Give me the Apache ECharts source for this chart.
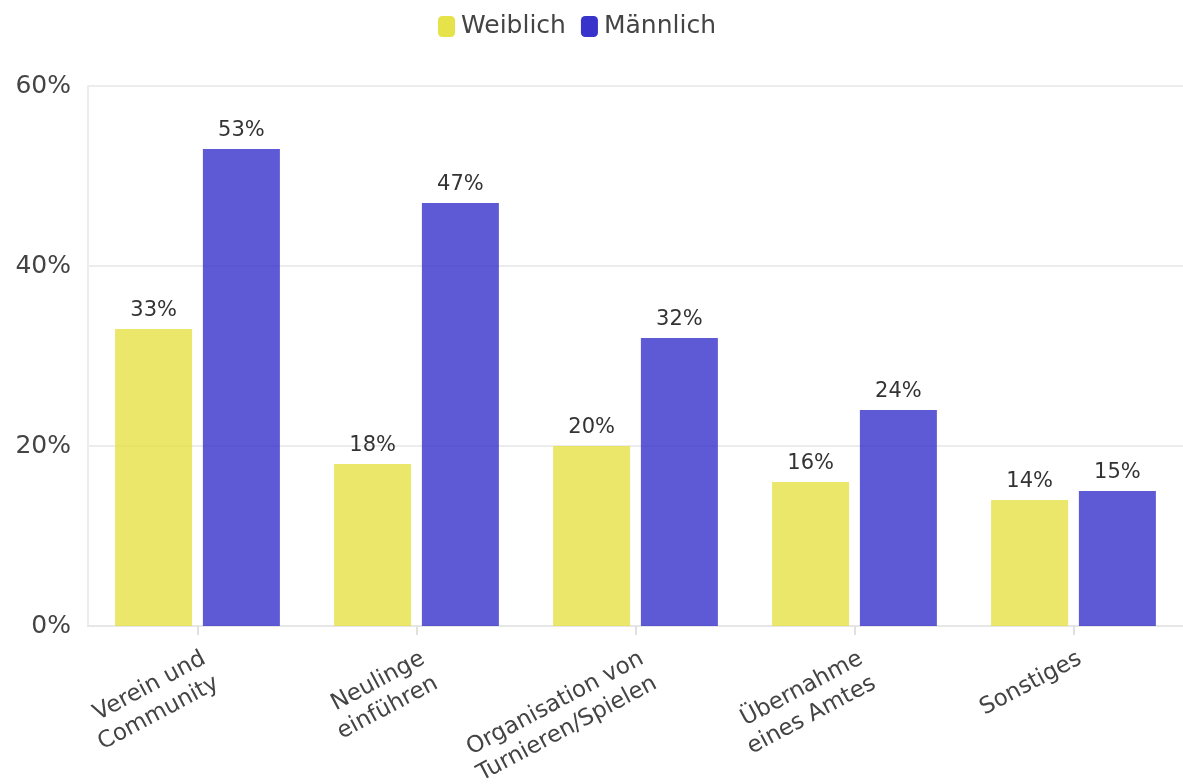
<!DOCTYPE html>
<html><head><meta charset="utf-8">
<script src="https://cdn.jsdelivr.net/npm/echarts@6/dist/echarts.min.js"></script>
<style>html,body{margin:0;padding:0;background:#fff}#c{width:1183px;height:784px}</style>
</head><body><div id="c"></div>
<script>
const categories = ["Verein und\nCommunity", "Neulinge\neinführen", "Organisation von\nTurnieren/Spielen", "Übernahme\neines Amtes", "Sonstiges"];
const weiblich = [33, 18, 20, 16, 14];
const maennlich = [53, 47, 32, 24, 15];
const yTicks = [0, 20, 40, 60];

const font = "DejaVu Sans";
const chart = echarts.init(document.getElementById('c'));
chart.setOption({
  animation: false,
  textStyle: {fontFamily: font},
  legend: {
    top: 9, left: 433,
    itemWidth: 17, itemHeight: 21, itemGap: 15,
    icon: 'roundRect',
    textStyle: {fontSize: 25, color: '#444', fontFamily: font, padding: [0, 0, 0, 1]},
    data: [{name: 'Weiblich', itemStyle: {color: '#e6e24a', opacity: 1}}, {name: 'Männlich', itemStyle: {color: '#3a33cb', opacity: 1}}]
  },
  grid: {left: 88, right: 0, top: 86, bottom: 158, containLabel: false, outerBoundsMode: 'none'},
  xAxis: {
    type: 'category', data: categories,
    axisLine: {lineStyle: {color: '#e6e6e6', width: 2}},
    axisTick: {show: true, alignWithLabel: true, length: 9, lineStyle: {color: '#e0e0e0', width: 2}},
    axisLabel: {rotate: 28, align: 'right', verticalAlign: 'top', fontSize: 23, color: '#444', fontFamily: font, margin: 19, lineHeight: 28, interval: 0}
  },
  yAxis: {
    type: 'value', min: 0, max: 60, interval: 20,
    axisLine: {show: true, lineStyle: {color: '#ececec', width: 2}},
    axisTick: {show: false},
    splitLine: {lineStyle: {color: '#ececec', width: 2}},
    axisLabel: {formatter: v => v + '%', fontSize: 25, color: '#444', fontFamily: font, margin: 17}
  },
  series: [
    {name: 'Weiblich', type: 'bar', data: weiblich, barWidth: 77, barGap: '14%',
     itemStyle: {color: 'rgba(228,224,64,0.78)'},
     label: {show: true, position: 'top', formatter: '{c}%', fontSize: 21, color: '#333', fontFamily: font, distance: 8}},
    {name: 'Männlich', type: 'bar', data: maennlich, barWidth: 77,
     itemStyle: {color: 'rgba(54,47,201,0.80)'},
     label: {show: true, position: 'top', formatter: '{c}%', fontSize: 21, color: '#333', fontFamily: font, distance: 8}}
  ]
});
</script></body></html>
